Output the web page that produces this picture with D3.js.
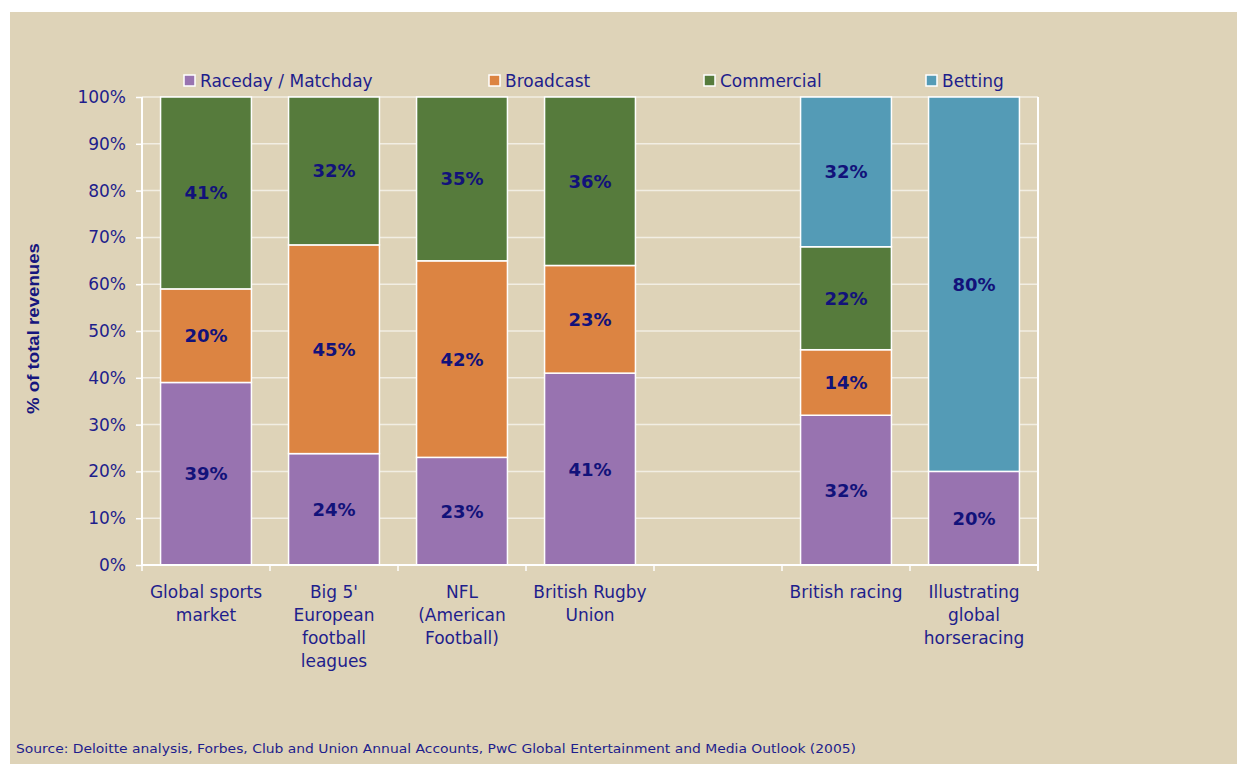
<!DOCTYPE html>
<html>
<head>
<meta charset="utf-8">
<script src="https://cdn.jsdelivr.net/npm/d3@7"></script>
<style>
  body { margin: 0; background: #ffffff; }
</style>
</head>
<body>
<div id="chart"></div>
<script>
// Data
const categories = ["global", "big5", "nfl", "rugby", "gap", "racing", "horseracing"];
const categoryLines = [
    ["Global sports", "market"],
    ["Big 5'", "European", "football", "leagues"],
    ["NFL", "(American", "Football)"],
    ["British Rugby", "Union"],
    [],
    ["British racing"],
    ["Illustrating", "global", "horseracing"]
];
const seriesNames = ["Raceday / Matchday", "Broadcast", "Commercial", "Betting"];
const raceday    = [39, 23.8, 23, 41, 0, 32, 20];
const broadcast  = [20, 44.6, 42, 23, 0, 14, 0];
const commercial = [41, 31.6, 35, 36, 0, 22, 0];
const betting    = [0, 0, 0, 0, 0, 32, 80];
const yTicks = [0, 10, 20, 30, 40, 50, 60, 70, 80, 90, 100];

const seriesColors = ["#9873b0", "#dc8442", "#567b3c", "#549bb6"];
const legendX = [184, 489, 704, 926];

// table for d3.stack
const keys = ["raceday", "broadcast", "commercial", "betting"];
const table = categories.map((c, i) => ({
    cat: c,
    raceday: raceday[i],
    broadcast: broadcast[i],
    commercial: commercial[i],
    betting: betting[i]
}));

// Dimensions
const width = 1237;
const height = 764;
const plot = { left: 142, right: 1038, top: 97, bottom: 565 };
const textColor = "#1e1e8c";

const svg = d3.select("#chart")
    .append("svg")
    .attr("width", width)
    .attr("height", height);

// fons
svg.append("rect")
    .attr("x", 10).attr("y", 12)
    .attr("width", width - 10).attr("height", height - 12)
    .attr("fill", "#ded3b8");

// Escales
const x = d3.scaleBand()
    .domain(categories)
    .range([plot.left, plot.right])
    .paddingInner(0.29)
    .paddingOuter(0.145);

const y = d3.scaleLinear()
    .domain([0, 100])
    .range([plot.bottom, plot.top]);

// gridlines
svg.append("g")
    .selectAll("line")
    .data(yTicks.slice(1))
    .enter()
    .append("line")
    .attr("x1", plot.left).attr("x2", plot.right)
    .attr("y1", d => y(d)).attr("y2", d => y(d))
    .attr("stroke", "#f2eee3")
    .attr("stroke-width", 1.5);

// right border line
svg.append("line")
    .attr("x1", plot.right).attr("x2", plot.right)
    .attr("y1", y(100)).attr("y2", y(0) + 6)
    .attr("stroke", "#ffffff")
    .attr("stroke-width", 2);

// barres
const stacked = d3.stack().keys(keys)(table);

const layers = svg.append("g")
    .selectAll("g")
    .data(stacked)
    .enter()
    .append("g")
    .attr("fill", (d, i) => seriesColors[i]);

layers.selectAll("rect")
    .data(d => d.filter(s => s[1] - s[0] > 0))
    .enter()
    .append("rect")
    .attr("x", d => x(d.data.cat))
    .attr("y", d => y(d[1]))
    .attr("width", x.bandwidth())
    .attr("height", d => y(d[0]) - y(d[1]))
    .attr("stroke", "#ffffff")
    .attr("stroke-width", 1.5);

// Labels dins barres
layers.selectAll("text")
    .data(d => d.filter(s => s[1] - s[0] > 0))
    .enter()
    .append("text")
    .attr("x", d => x(d.data.cat) + x.bandwidth() / 2)
    .attr("y", d => y((d[0] + d[1]) / 2))
    .attr("dy", "0.36em")
    .attr("text-anchor", "middle")
    .style("font-family", "'DejaVu Sans', Verdana, sans-serif")
    .style("font-weight", "bold")
    .style("font-size", "18px")
    .style("fill", "#12127a")
    .text(d => Math.round(d[1] - d[0]) + "%");

// eix Y
const yAxis = svg.append("g")
    .attr("transform", `translate(${plot.left},0)`)
    .call(d3.axisLeft(y).tickValues(yTicks).tickSize(6).tickPadding(10).tickFormat(d => d + "%"));
yAxis.select(".domain")
    .attr("stroke", "#ffffff")
    .attr("stroke-width", 2)
    .attr("d", `M0,${y(100)}V${y(0)}`);
yAxis.selectAll(".tick line")
    .attr("stroke", "#ffffff")
    .attr("stroke-width", 1.5);
yAxis.selectAll(".tick text")
    .style("font-family", "'DejaVu Sans', Verdana, sans-serif")
    .style("font-size", "17px")
    .style("fill", textColor);

// eix X
const bounds = categories.map(c => x(c) - x.step() * x.paddingInner() / 2)
    .concat([plot.right]);
svg.append("line")
    .attr("x1", plot.left).attr("x2", plot.right)
    .attr("y1", plot.bottom).attr("y2", plot.bottom)
    .attr("stroke", "#ffffff")
    .attr("stroke-width", 2);
svg.append("g")
    .selectAll("line")
    .data(bounds)
    .enter()
    .append("line")
    .attr("x1", d => d).attr("x2", d => d)
    .attr("y1", plot.bottom).attr("y2", plot.bottom + 6)
    .attr("stroke", "#ffffff")
    .attr("stroke-width", 1.5);

const catLabels = svg.append("g")
    .selectAll("text")
    .data(categories)
    .enter()
    .append("text")
    .attr("x", d => x(d) + x.bandwidth() / 2)
    .attr("y", 598)
    .attr("text-anchor", "middle")
    .style("font-family", "'DejaVu Sans', Verdana, sans-serif")
    .style("font-size", "17px")
    .style("fill", textColor);
catLabels.each(function(d, i) {
    d3.select(this).selectAll("tspan")
        .data(categoryLines[i])
        .enter()
        .append("tspan")
        .attr("x", x(d) + x.bandwidth() / 2)
        .attr("dy", (t, j) => j === 0 ? 0 : 23)
        .text(t => t);
});

// Llegenda
const legend = svg.append("g")
    .selectAll("g")
    .data(seriesNames)
    .enter()
    .append("g")
    .attr("transform", (d, i) => `translate(${legendX[i]},75)`);
legend.append("rect")
    .attr("width", 11).attr("height", 11)
    .attr("fill", (d, i) => seriesColors[i])
    .attr("stroke", "#ffffff")
    .attr("stroke-width", 1.5);
legend.append("text")
    .attr("x", 16)
    .attr("y", 12)
    .style("font-family", "'DejaVu Sans', Verdana, sans-serif")
    .style("font-size", "17px")
    .style("fill", textColor)
    .text(d => d);

// Títol eix Y
svg.append("text")
    .attr("transform", `translate(39,${(243 + 414) / 2}) rotate(-90)`)
    .attr("text-anchor", "middle")
    .attr("textLength", 171)
    .attr("lengthAdjust", "spacingAndGlyphs")
    .style("font-family", "'Liberation Sans', Arial, sans-serif")
    .style("font-weight", "bold")
    .style("font-size", "17px")
    .style("fill", "#16167e")
    .text("% of total revenues");

// Font
svg.append("text")
    .attr("x", 16)
    .attr("y", 753)
    .attr("textLength", 840)
    .attr("lengthAdjust", "spacingAndGlyphs")
    .style("font-family", "'DejaVu Sans', Verdana, sans-serif")
    .style("font-size", "13px")
    .style("fill", textColor)
    .text("Source: Deloitte analysis, Forbes, Club and Union Annual Accounts, PwC Global Entertainment and Media Outlook (2005)");
</script>
</body>
</html>
